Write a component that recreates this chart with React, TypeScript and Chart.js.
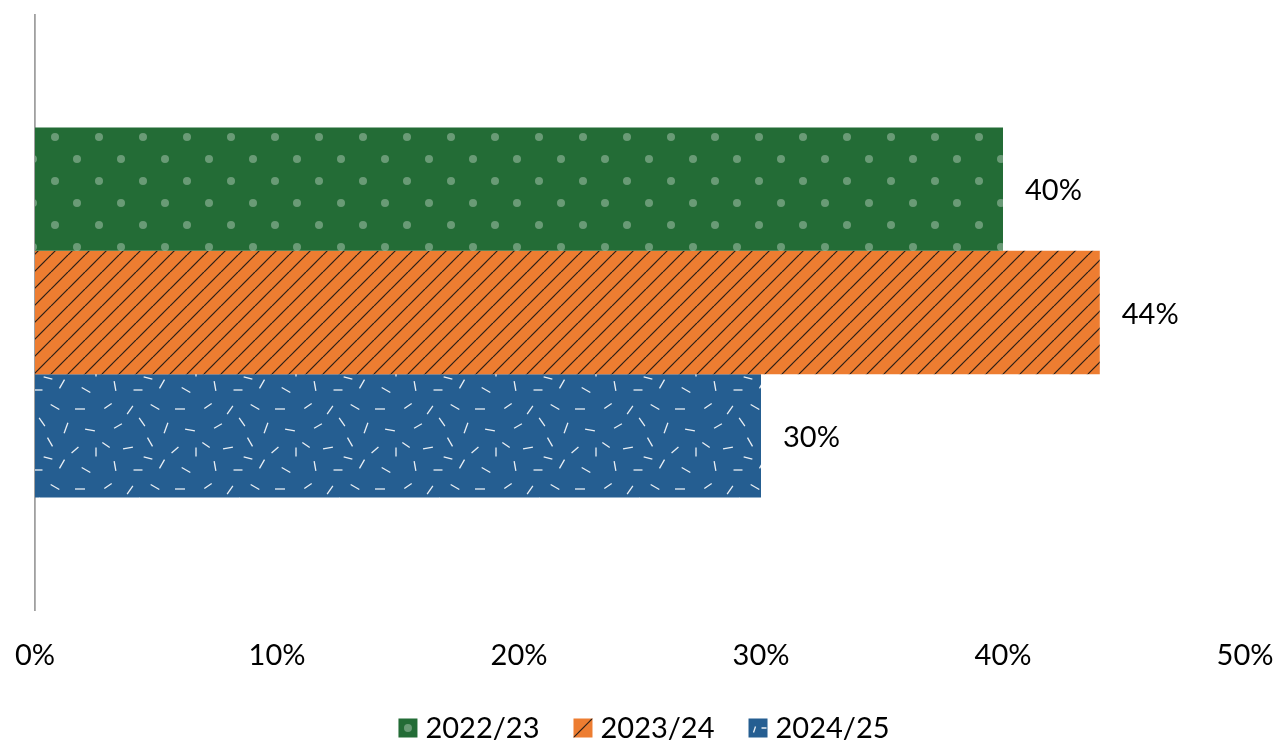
import React, { useEffect, useRef } from "react";
import { Chart, registerables } from "chart.js";

Chart.register(...registerables);

// Data
const categories = [""];
const seriesLabels = ["2022/23", "2023/24", "2024/25"];
const values2022 = [40];
const values2023 = [44];
const values2024 = [30];
const axisMin = 0;
const axisMax = 50;
const axisStep = 10;

// Styling
const FONT = "Lato, 'Open Sans', sans-serif";
const FS = 29;
const TEXT = "#000000";
const GREEN = "#236C36";
const ORANGE = "#ED7D31";
const BLUE = "#255E91";

function makeTile(w: number, h: number, draw: (c: CanvasRenderingContext2D) => void) {
  const cv = document.createElement("canvas");
  cv.width = w;
  cv.height = h;
  const c = cv.getContext("2d")!;
  draw(c);
  return cv;
}

// Green with a staggered grid of light dots
function dotPattern(ctx: CanvasRenderingContext2D) {
  const tile = makeTile(44, 44, (c) => {
    c.fillStyle = GREEN;
    c.fillRect(0, 0, 44, 44);
    c.fillStyle = "rgba(255,255,255,0.32)";
    const dots = [
      [11, 5],
      [33, 27],
    ];
    for (const [x, y] of dots) {
      for (const dx of [-44, 0, 44]) {
        for (const dy of [-44, 0, 44]) {
          c.beginPath();
          c.arc(x + dx, y + dy, 4, 0, Math.PI * 2);
          c.fill();
        }
      }
    }
  });
  return ctx.createPattern(tile, "repeat")!;
}

// Orange with thin dark upward diagonals
function hatchPattern(ctx: CanvasRenderingContext2D) {
  const s = 17;
  const tile = makeTile(s, s, (c) => {
    c.fillStyle = ORANGE;
    c.fillRect(0, 0, s, s);
    c.strokeStyle = "rgba(20,20,20,0.9)";
    c.lineWidth = 1.2;
    for (const k of [-1, 0, 1]) {
      c.beginPath();
      c.moveTo(k * s, s);
      c.lineTo(k * s + s, 0);
      c.stroke();
    }
  });
  return ctx.createPattern(tile, "repeat")!;
}

// Blue with short white confetti strokes: [cx, cy, angleDeg, length]
const confetti: number[][] = [
  [8, 6, -35, 9], [30, 10, -55, 10], [55, 7, 30, 10], [80, 9, 0, 10],
  [18, 26, -30, 9], [42, 22, 55, 10], [66, 28, -70, 11], [90, 30, 10, 10],
  [6, 45, 35, 9], [28, 48, -10, 10], [50, 42, 60, 10], [75, 50, -40, 9],
  [15, 66, 80, 10], [38, 70, 0, 9], [62, 64, -60, 10], [86, 70, 30, 10],
  [96, 52, 90, 9], [48, 58, 15, 9],
];
function confettiPattern(ctx: CanvasRenderingContext2D) {
  const tile = makeTile(100, 80, (c) => {
    c.fillStyle = BLUE;
    c.fillRect(0, 0, 100, 80);
    c.strokeStyle = "rgba(255,255,255,0.9)";
    c.lineWidth = 1.3;
    for (const [x, y, a, l] of confetti) {
      const r = (a * Math.PI) / 180;
      const dx = (Math.cos(r) * l) / 2;
      const dy = (Math.sin(r) * l) / 2;
      c.beginPath();
      c.moveTo(x - dx, y - dy);
      c.lineTo(x + dx, y + dy);
      c.stroke();
    }
  });
  return ctx.createPattern(tile, "repeat")!;
}

// Value labels right of each bar
const valueLabels = {
  id: "valueLabels",
  afterDatasetsDraw(chart: any) {
    const ctx = chart.ctx as CanvasRenderingContext2D;
    ctx.save();
    ctx.font = `${FS}px ${FONT}`;
    ctx.fillStyle = TEXT;
    ctx.textAlign = "left";
    ctx.textBaseline = "middle";
    chart.data.datasets.forEach((ds: any, i: number) => {
      const meta = chart.getDatasetMeta(i);
      meta.data.forEach((bar: any, j: number) => {
        ctx.fillText(`${ds.data[j]}%`, bar.x + 22, bar.y + 2);
      });
    });
    ctx.restore();
  },
};

// Legend with small icon swatches
const iconLegend = {
  id: "iconLegend",
  afterDraw(chart: any) {
    const ctx = chart.ctx as CanvasRenderingContext2D;
    ctx.save();
    ctx.font = `${FS}px ${FONT}`;
    const box = 19;
    const gapText = 8;
    const gapItem = 34;
    const items = chart.data.datasets.map((ds: any, i: number) => ({
      label: ds.label as string,
      i,
      w: ctx.measureText(ds.label).width,
    }));
    const total =
      items.reduce((s: number, it: any) => s + box + gapText + it.w, 0) + gapItem * (items.length - 1);
    const cx = (chart.chartArea.left + chart.chartArea.right) / 2 + 4;
    let x = cx - total / 2;
    const y = chart.height - 13;
    for (const it of items) {
      const top = y - box / 2;
      if (it.i === 0) {
        ctx.fillStyle = GREEN;
        ctx.fillRect(x, top, box, box);
        ctx.fillStyle = "rgba(255,255,255,0.32)";
        ctx.beginPath();
        ctx.arc(x + box / 2, top + box / 2, 4, 0, Math.PI * 2);
        ctx.fill();
      } else if (it.i === 1) {
        ctx.fillStyle = ORANGE;
        ctx.fillRect(x, top, box, box);
        ctx.save();
        ctx.beginPath();
        ctx.rect(x, top, box, box);
        ctx.clip();
        ctx.strokeStyle = "rgba(20,20,20,0.9)";
        ctx.lineWidth = 1.2;
        ctx.beginPath();
        ctx.moveTo(x - 2, top + box + 2);
        ctx.lineTo(x + box + 2, top - 2);
        ctx.stroke();
        ctx.restore();
      } else {
        ctx.fillStyle = BLUE;
        ctx.fillRect(x, top, box, box);
        ctx.strokeStyle = "rgba(255,255,255,0.9)";
        ctx.lineWidth = 1.3;
        ctx.beginPath();
        ctx.moveTo(x + 5, top + 14);
        ctx.lineTo(x + 7, top + 8);
        ctx.moveTo(x + 13, top + 9.5);
        ctx.lineTo(x + 18, top + 9.5);
        ctx.stroke();
      }
      ctx.fillStyle = TEXT;
      ctx.textAlign = "left";
      ctx.textBaseline = "middle";
      ctx.fillText(it.label, x + box + gapText, y + 1);
      x += box + gapText + it.w + gapItem;
    }
    ctx.restore();
  },
};

export default function App() {
  const ref = useRef<HTMLCanvasElement | null>(null);

  useEffect(() => {
    const canvas = ref.current;
    if (!canvas) return;
    const ctx = canvas.getContext("2d")!;
    const chart = new Chart(canvas, {
      type: "bar",
      data: {
        labels: categories,
        datasets: [
          { label: seriesLabels[0], data: values2022, backgroundColor: dotPattern(ctx) },
          { label: seriesLabels[1], data: values2023, backgroundColor: hatchPattern(ctx) },
          { label: seriesLabels[2], data: values2024, backgroundColor: confettiPattern(ctx) },
        ],
      },
      options: {
        indexAxis: "y",
        responsive: false,
        animation: false,
        layout: { padding: { top: 15, left: 35, right: 31, bottom: 40 } },
        datasets: {
          bar: { barPercentage: 1, categoryPercentage: 0.622, borderWidth: 0 },
        },
        plugins: {
          legend: { display: false },
          tooltip: { enabled: false },
        },
        scales: {
          x: {
            min: axisMin,
            max: axisMax,
            grid: { display: false, drawTicks: false },
            border: { display: false },
            ticks: {
              stepSize: axisStep,
              padding: 28,
              color: TEXT,
              font: { family: FONT, size: FS },
              callback: (v: any) => `${v}%`,
            },
            afterFit: (scale: any) => {
              scale.height = 91;
              scale.paddingLeft = 0;
              scale.paddingRight = 0;
            },
          },
          y: {
            grid: { display: false, drawTicks: false },
            border: { display: true, color: "#A0A0A0", width: 1.8 },
            ticks: { display: false },
            afterFit: (scale: any) => {
              scale.width = 0;
              scale.paddingTop = 0;
              scale.paddingBottom = 0;
            },
          },
        },
      },
      plugins: [valueLabels, iconLegend],
    });
    return () => chart.destroy();
  }, []);

  return (
    <div style={{ position: "absolute", left: 0, top: 0, width: 1276, height: 741, background: "#fff" }}>
      <canvas ref={ref} width={1276} height={741} style={{ display: "block" }} />
    </div>
  );
}
